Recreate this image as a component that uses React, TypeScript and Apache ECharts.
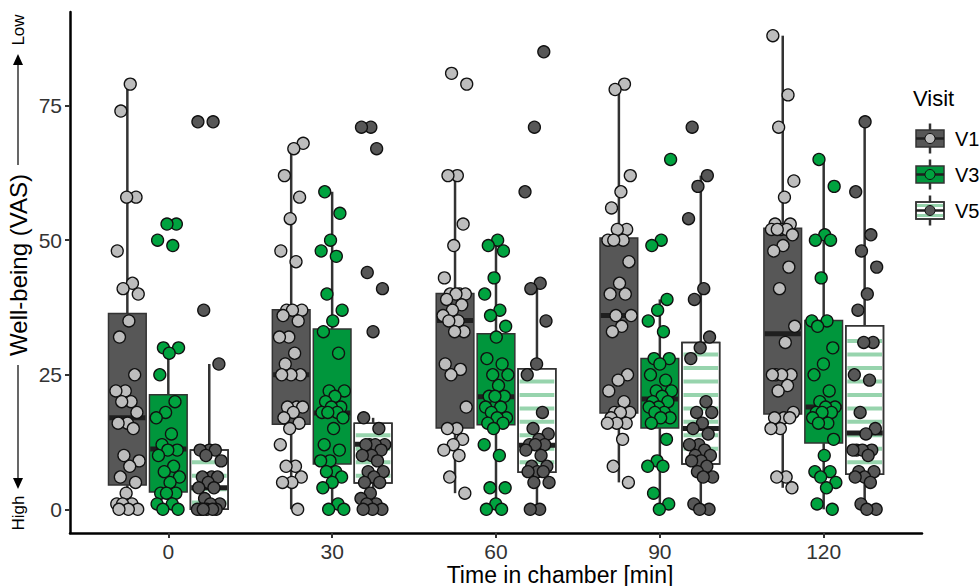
import React, { useEffect, useRef } from "react";
import * as echarts from "echarts";

const timeLabels = ["0", "30", "60", "90", "120"];
const visitNames = ["V1", "V3", "V5"];
const yTicks = [0, 25, 50, 75];

// box statistics per time point: [lower whisker, Q1, median, Q3, upper whisker]
const boxV1 = [
  [0, 4.5, 17, 36.4, 79],
  [0, 15.8, 25, 37.1, 68],
  [3, 15.1, 35.1, 40.1, 62],
  [5, 17.9, 36, 50.4, 79],
  [4, 17.7, 32.6, 52.2, 88],
];
const boxV3 = [
  [0, 3.2, 11.2, 21.3, 30],
  [0, 8.4, 17.9, 33.5, 59],
  [0, 15.7, 20.9, 32.6, 50],
  [0, 15.1, 20.5, 28, 39],
  [0, 12.3, 19, 35.1, 65],
];
const boxV5 = [
  [0, 0, 4, 11, 27],
  [0, 4.9, 12.1, 16, 17],
  [0, 6.9, 11.9, 26.1, 42],
  [0, 8.4, 15, 31, 62],
  [0, 6.5, 14.2, 34.1, 72],
];

// individual observations per time point
const ptsV1 = [
  [79, 74, 58, 58, 48, 42, 41, 40, 35, 32, 25, 22, 22, 20, 20, 18, 16, 16, 15, 10, 9, 8, 6, 5, 3, 1, 1, 1, 0, 0, 0],
  [68, 67, 62, 58, 54, 48, 46, 37, 37, 37, 36, 35, 32, 32, 29, 27, 25, 25, 25, 19, 19, 19, 18, 17, 16, 15, 12, 8, 8, 6, 5, 5, 0],
  [81, 79, 62, 62, 53, 49, 43, 40, 40, 40, 40, 39, 38, 37, 36, 35, 35, 33, 33, 27, 26, 25, 19, 15, 15, 13, 12, 11, 10, 6, 3],
  [79, 78, 62, 59, 56, 52, 52, 50, 50, 50, 46, 42, 40, 40, 36, 36, 34, 33, 25, 24, 22, 20, 18, 18, 18, 17, 16, 16, 16, 13, 8, 5],
  [88, 77, 71, 61, 58, 53, 53, 52, 52, 52, 52, 51, 49, 48, 45, 41, 34, 31, 25, 25, 25, 25, 23, 22, 18, 17, 17, 17, 15, 15, 6, 6, 4],
];
const ptsV3 = [
  [53, 53, 50, 49, 30, 30, 29, 25, 20, 18, 17, 14, 12, 11, 11, 10, 8, 7, 6, 5, 3, 3, 3, 1, 1, 0, 0],
  [59, 55, 50, 48, 47, 40, 37, 35, 33, 29, 22, 22, 21, 20, 19, 19, 18, 18, 18, 17, 15, 12, 11, 9, 9, 7, 7, 6, 5, 4, 1, 0, 0],
  [50, 49, 48, 43, 40, 37, 36, 34, 32, 28, 27, 25, 25, 23, 21, 21, 21, 19, 19, 18, 17, 17, 16, 16, 15, 12, 10, 4, 4, 1, 0, 0],
  [65, 50, 49, 39, 37, 35, 33, 28, 28, 27, 25, 24, 22, 22, 21, 20, 20, 19, 19, 18, 18, 17, 17, 16, 13, 9, 8, 8, 3, 1, 0],
  [65, 60, 51, 50, 50, 43, 35, 35, 34, 30, 27, 25, 22, 20, 19, 19, 18, 18, 18, 17, 16, 16, 13, 10, 7, 7, 6, 5, 4, 1, 0],
];
const ptsV5 = [
  [72, 72, 37, 27, 11, 11, 11, 10, 9, 6, 6, 6, 5, 4, 4, 2, 1, 1, 0, 0, 0, 0, 0, 0],
  [71, 71, 67, 44, 41, 33, 17, 15, 12, 12, 12, 12, 11, 10, 10, 9, 7, 7, 6, 5, 5, 3, 2, 1, 1, 0, 0, 0],
  [85, 71, 59, 42, 41, 35, 27, 25, 18, 15, 14, 13, 12, 12, 12, 11, 10, 8, 8, 7, 7, 7, 5, 5, 0, 0],
  [71, 62, 60, 54, 41, 39, 32, 30, 28, 20, 18, 18, 16, 15, 14, 12, 12, 11, 10, 10, 9, 9, 8, 7, 6, 6, 1, 0, 0],
  [72, 59, 51, 48, 45, 40, 37, 31, 31, 25, 24, 18, 15, 14, 11, 11, 11, 11, 10, 7, 7, 6, 6, 5, 1, 0, 0],
];

const boxes = [boxV1, boxV3, boxV5];
const points = [ptsV1, ptsV3, ptsV5];

const FONT = "Liberation Sans, Arial, sans-serif";
const boxFill = ["#575757", "#00963c", "#ffffff"];
const pointFill = ["#bdbdbd", "#00a33f", "#575757"];
const stripeColor = "#97d4ad";
const dodge = [-0.25, 0, 0.25];
const boxW = 0.23;
const jitterW = 0.075;

export default function App() {
  const ref = useRef<HTMLDivElement>(null);
  useEffect(() => {
    document.body.style.margin = "0";
    const chart = echarts.init(ref.current!, null, { renderer: "svg" });

    const boxData: number[][] = [];
    boxes.forEach((bv, vi) =>
      bv.forEach((s, ti) => {
        boxData.push([ti + 1 + dodge[vi], s[0], s[1], s[2], s[3], s[4], vi]);
      })
    );

    const scatterSeries = points.map((pv, vi) => {
      const data: number[][] = [];
      pv.forEach((vals, ti) => {
        vals.forEach((v, i) => {
          const f = ((i + 1) * 0.6180339887 + ti * 0.37 + vi * 0.21) % 1;
          data.push([ti + 1 + dodge[vi] + (f - 0.5) * 2 * jitterW, v]);
        });
      });
      return {
        type: "scatter",
        name: visitNames[vi],
        data,
        symbolSize: 12,
        z: 3,
        itemStyle: { color: pointFill[vi], borderColor: "#111", borderWidth: 1.3, opacity: 1 },
        silent: true,
      };
    });

    const legendGraphics: any[] = [];
    const legendY = [138.5, 174.5, 210.5];
    legendY.forEach((c, vi) => {
      legendGraphics.push({ type: "line", shape: { x1: 930, y1: c - 15, x2: 930, y2: c + 15 }, style: { stroke: "#333", lineWidth: 2.5 } });
      legendGraphics.push({ type: "rect", shape: { x: 916, y: c - 8.5, width: 28, height: 17 }, style: { fill: boxFill[vi], stroke: "#333", lineWidth: 1.5 } });
      if (vi === 2) {
        [c - 5, c + 5].forEach((sy) =>
          legendGraphics.push({ type: "line", shape: { x1: 917, y1: sy, x2: 943, y2: sy }, style: { stroke: stripeColor, lineWidth: 3 } })
        );
        legendGraphics.push({ type: "rect", shape: { x: 916, y: c - 8.5, width: 28, height: 17 }, style: { fill: "none", stroke: "#333", lineWidth: 1.5 } });
      }
      legendGraphics.push({ type: "line", shape: { x1: 916, y1: c, x2: 944, y2: c }, style: { stroke: "#1f1f1f", lineWidth: 2.5 } });
      legendGraphics.push({ type: "circle", shape: { cx: 930, cy: c, r: 5 }, style: { fill: pointFill[vi], stroke: "#111", lineWidth: 1 } });
      legendGraphics.push({ type: "text", x: 955, y: c, style: { text: visitNames[vi], font: `20px ${FONT}`, fill: "#000", textVerticalAlign: "middle" } });
    });

    chart.setOption({
      animation: false,
      grid: { left: 70, right: 57, top: 12, bottom: 53, containLabel: false },
      xAxis: {
        type: "value",
        min: 0.4,
        max: 5.6,
        axisLine: { show: true, onZero: false, lineStyle: { color: "#000", width: 2.5 } },
        axisTick: { show: true, customValues: [1, 2, 3, 4, 5], length: 5, lineStyle: { color: "#333", width: 2 } },
        axisLabel: {
          customValues: [1, 2, 3, 4, 5],
          formatter: (v: number) => timeLabels[Math.round(v) - 1],
          fontSize: 21,
          fontFamily: FONT,
          color: "#333",
          margin: 8,
        },
        splitLine: { show: false },
      },
      yAxis: {
        type: "value",
        min: -4.4,
        max: 92.4,
        axisLine: { show: true, onZero: false, lineStyle: { color: "#000", width: 2.5 } },
        axisTick: { show: true, customValues: yTicks, length: 5, lineStyle: { color: "#333", width: 2 } },
        axisLabel: { customValues: yTicks, fontSize: 21, fontFamily: FONT, color: "#333", margin: 8 },
        splitLine: { show: false },
      },
      series: [
        {
          type: "custom",
          data: boxData,
          z: 2,
          silent: true,
          renderItem: (params: any, api: any) => {
            const x = api.value(0);
            const low = api.coord([x, api.value(1)]);
            const q1 = api.coord([x, api.value(2)]);
            const med = api.coord([x, api.value(3)]);
            const q3 = api.coord([x, api.value(4)]);
            const high = api.coord([x, api.value(5)]);
            const vi = api.value(6);
            const w = api.size([boxW, 0])[0];
            const cx = low[0];
            const left = cx - w / 2;
            const children: any[] = [
              { type: "line", shape: { x1: cx, y1: q3[1], x2: cx, y2: high[1] }, style: { stroke: "#333", lineWidth: 2.5 } },
              { type: "line", shape: { x1: cx, y1: q1[1], x2: cx, y2: low[1] }, style: { stroke: "#333", lineWidth: 2.5 } },
              { type: "rect", shape: { x: left, y: q3[1], width: w, height: q1[1] - q3[1] }, style: { fill: boxFill[vi], stroke: "#333", lineWidth: 1.5 } },
            ];
            if (vi === 2) {
              for (let k = 0; k < 40; k++) {
                const sv = 1.25 + 2.5 * k;
                if (sv <= api.value(2) || sv >= api.value(4)) continue;
                const p = api.coord([x, sv]);
                if (p[1] < q3[1] + 2 || p[1] > q1[1] - 2) continue;
                children.push({ type: "line", shape: { x1: left + 1.5, y1: p[1], x2: left + w - 1.5, y2: p[1] }, style: { stroke: stripeColor, lineWidth: 4 } });
              }
              children.push({ type: "rect", shape: { x: left, y: q3[1], width: w, height: q1[1] - q3[1] }, style: { fill: "none", stroke: "#333", lineWidth: 1.5 } });
            }
            children.push({ type: "line", shape: { x1: left + 0.75, y1: med[1], x2: left + w - 0.75, y2: med[1] }, style: { stroke: "#1f1f1f", lineWidth: 5 } });
            return { type: "group", children };
          },
        },
        ...scatterSeries,
      ],
      graphic: [
        { type: "text", x: 560, y: 563, style: { text: "Time in chamber [min]", font: `23px ${FONT}`, fill: "#000", textAlign: "center", textVerticalAlign: "top" } },
        { type: "text", x: 18, y: 265, rotation: Math.PI / 2, style: { text: "Well-being (VAS)", font: `24px ${FONT}`, fill: "#000", textAlign: "center", textVerticalAlign: "middle" } },
        { type: "text", x: 18, y: 30, rotation: Math.PI / 2, style: { text: "Low", font: `17px ${FONT}`, fill: "#000", textAlign: "center", textVerticalAlign: "middle" } },
        { type: "text", x: 18, y: 513, rotation: Math.PI / 2, style: { text: "High", font: `17px ${FONT}`, fill: "#000", textAlign: "center", textVerticalAlign: "middle" } },
        { type: "line", shape: { x1: 18, y1: 64, x2: 18, y2: 165 }, style: { stroke: "#000", lineWidth: 1.2 } },
        { type: "polygon", shape: { points: [[18, 54], [13, 65], [23, 65]] }, style: { fill: "#000" } },
        { type: "line", shape: { x1: 18, y1: 365, x2: 18, y2: 478 }, style: { stroke: "#000", lineWidth: 1.2 } },
        { type: "polygon", shape: { points: [[18, 489], [13, 478], [23, 478]] }, style: { fill: "#000" } },
        { type: "text", x: 913, y: 98, style: { text: "Visit", font: `22px ${FONT}`, fill: "#000", textVerticalAlign: "middle" } },
        ...legendGraphics,
      ],
    });
    return () => chart.dispose();
  }, []);
  return <div ref={ref} style={{ width: 979, height: 586 }} />;
}
